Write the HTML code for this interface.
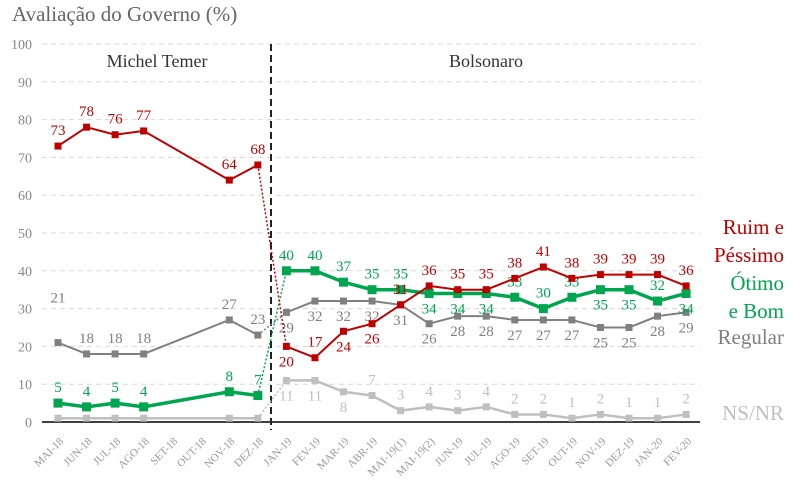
<!DOCTYPE html>
<html><head><meta charset="utf-8"><style>
html,body{margin:0;padding:0;background:#fff;}
svg{display:block;font-family:"Liberation Serif","DejaVu Serif",serif;}
</style></head><body>
<svg id="s" width="796" height="486" viewBox="0 0 796 486" xmlns="http://www.w3.org/2000/svg">
<text x="12" y="21" font-size="21" fill="#666">Avaliação do Governo (%)</text>
</svg>
<script>
const s=document.getElementById('s');const NS='http://www.w3.org/2000/svg';
function el(t,a,txt){const e=document.createElementNS(NS,t);for(const k in a)e.setAttribute(k,a[k]);if(txt!==undefined)e.textContent=txt;s.appendChild(e);return e;}
const Y=v=>422-v*3.78, X=i=>58+i*28.55;
for(let v=10;v<=100;v+=10)el('line',{x1:42,x2:700,y1:Y(v),y2:Y(v),stroke:'#d9d9d9','stroke-dasharray':'5,4','stroke-width':1});
for(let v=0;v<=100;v+=10)el('text',{x:32,y:Y(v)+5,'font-size':14,fill:'#888','text-anchor':'end'},v);
el('line',{x1:42,x2:700,y1:422,y2:422,stroke:'#000','stroke-width':1.5});
el('line',{x1:271,x2:271,y1:44,y2:430,stroke:'#222','stroke-width':2,'stroke-dasharray':'7,4'});
el('text',{x:157,y:67,'font-size':18,fill:'#333','text-anchor':'middle'},'Michel Temer');
el('text',{x:486,y:67,'font-size':18,fill:'#333','text-anchor':'middle'},'Bolsonaro');
const cats=['MAI-18','JUN-18','JUL-18','AGO-18','SET-18','OUT-18','NOV-18','DEZ-18','JAN-19','FEV-19','MAR-19','ABR-19','MAI-19(1)','MAI-19(2)','JUN-19','JUL-19','AGO-19','SET-19','OUT-19','NOV-19','DEZ-19','JAN-20','FEV-20'];
cats.forEach((c,i)=>{const x=X(i)+6,y=442;el('text',{x:x,y:y,'font-size':11,fill:'#999','text-anchor':'end',transform:`rotate(-45 ${x} ${y})`},c);});
const N=null;
const series=[
 {c:'#bfbfbf',w:2.5,d:[1,1,1,1,N,N,1,1,11,11,8,7,3,4,3,4,2,2,1,2,1,1,2],lp:[0,0,0,0,0,0,0,0,1,1,1,-1,-1,-1,-1,-1,-1,-1,-1,-1,-1,-1,-1]},
 {c:'#808080',w:2,d:[21,18,18,18,N,N,27,23,29,32,32,32,31,26,28,28,27,27,27,25,25,28,29],lp:[-3,-1,-1,-1,0,0,-1,-1,1,1,1,1,1,1,1,1,1,1,1,1,1,1,1]},
 {c:'#00a550',w:3.5,d:[5,4,5,4,N,N,8,7,40,40,37,35,35,34,34,34,33,30,33,35,35,32,34],lp:[-1,-1,-1,-1,0,0,-1,-1,-1,-1,-1,-1,-1,1,1,1,-1,-1,-1,1,1,-1,1]},
 {c:'#c00000',w:2,d:[73,78,76,77,N,N,64,68,20,17,24,26,31,36,35,35,38,41,38,39,39,39,36],lp:[-1,-1,-1,-1,0,0,-1,-1,1,-1,1,1,-1,-1,-1,-1,-1,-1,-1,-1,-1,-1,-1]}
];
series.forEach(S=>{
 const idx=S.d.map((v,i)=>v===N?-1:i).filter(i=>i>=0);
 const a=idx.filter(i=>i<=7),b=idx.filter(i=>i>=8);
 const pts=arr=>arr.map(i=>X(i)+','+Y(S.d[i])).join(' ');
 el('polyline',{points:pts(a),fill:'none',stroke:S.c,'stroke-width':S.w});
 el('polyline',{points:pts(b),fill:'none',stroke:S.c,'stroke-width':S.w});
 el('line',{x1:X(7),y1:Y(S.d[7]),x2:X(8),y2:Y(S.d[8]),stroke:S.c,'stroke-width':1.5,'stroke-dasharray':'2,2'});
 idx.forEach(i=>{const x=X(i),y=Y(S.d[i]);const r=S.w>3?4.5:3.5;
  el('rect',{x:x-r,y:y-r,width:2*r,height:2*r,fill:S.c});
  const p=S.lp[i]; if(p===0)return;
  const off=p>0?20:(p===-3?-40:-11);
  el('text',{x:x,y:y+off,'font-size':15,fill:S.c,'text-anchor':'middle'},S.d[i]);});
});
const L=[['Ruim e',234,'#c00000'],['Péssimo',262,'#c00000'],['Ótimo',290,'#00a550'],['e Bom',318,'#00a550'],['Regular',344,'#808080'],['NS/NR',420,'#bfbfbf']];
L.forEach(l=>el('text',{x:784,y:l[1],'font-size':21,fill:l[2],'text-anchor':'end'},l[0]));
</script>
</body></html>
